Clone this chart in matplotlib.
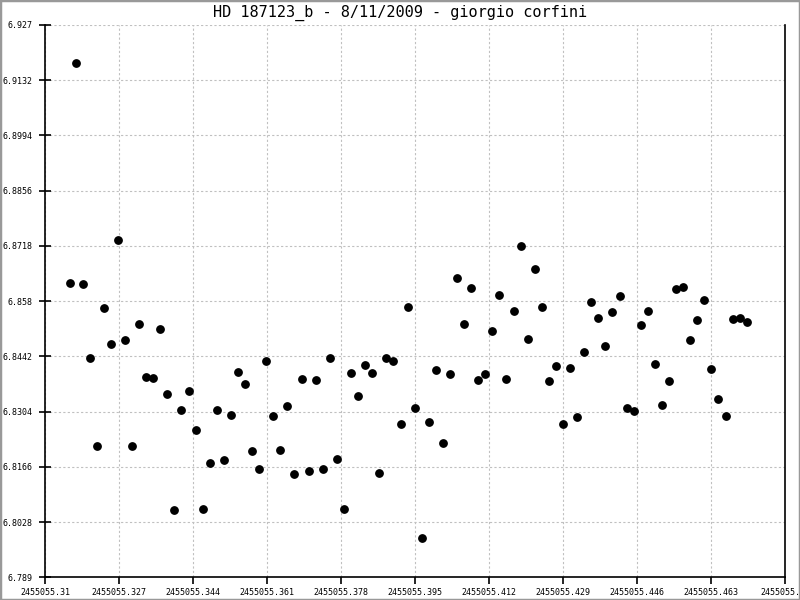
import matplotlib
matplotlib.use('Agg')
import matplotlib.pyplot as plt
from matplotlib.patches import Rectangle

# photometry: julian date vs magnitude
jd = [2455055.31574, 2455055.31712, 2455055.31882, 2455055.32034, 2455055.32195,
      2455055.32355, 2455055.32516, 2455055.32677, 2455055.32838, 2455055.32999,
      2455055.33159, 2455055.33320, 2455055.33481, 2455055.33642, 2455055.33803,
      2455055.33964, 2455055.34124, 2455055.34308, 2455055.34469, 2455055.34630,
      2455055.34791, 2455055.34951, 2455055.35112, 2455055.35273, 2455055.35434,
      2455055.35595, 2455055.35755, 2455055.35916, 2455055.36077, 2455055.36238,
      2455055.36399, 2455055.36559, 2455055.36720, 2455055.36904, 2455055.37065,
      2455055.37226, 2455055.37386, 2455055.37547, 2455055.37708, 2455055.37869,
      2455055.38030, 2455055.38191, 2455055.38351, 2455055.38512, 2455055.38673,
      2455055.38834, 2455055.38995, 2455055.39178, 2455055.39339, 2455055.39500,
      2455055.39661, 2455055.39822, 2455055.39982, 2455055.40143, 2455055.40304,
      2455055.40465, 2455055.40626, 2455055.40786, 2455055.40947, 2455055.41108,
      2455055.41269, 2455055.41430, 2455055.41591, 2455055.41774, 2455055.41935,
      2455055.42096, 2455055.42257, 2455055.42418, 2455055.42578, 2455055.42739,
      2455055.42900, 2455055.43061, 2455055.43222, 2455055.43382, 2455055.43543,
      2455055.43704, 2455055.43865, 2455055.44026, 2455055.44210, 2455055.44370,
      2455055.44531, 2455055.44692, 2455055.44853, 2455055.45014, 2455055.45174,
      2455055.45335, 2455055.45496, 2455055.45657, 2455055.45818, 2455055.45978,
      2455055.46139, 2455055.46300, 2455055.46461, 2455055.46645, 2455055.46805,
      2455055.46966, 2455055.47127]

mag = [6.8625, 6.9174, 6.8622, 6.8437, 6.8217, 6.8562, 6.8472, 6.8732, 6.8482, 6.8217,
       6.8522, 6.8390, 6.8387, 6.8510, 6.8347, 6.8057, 6.8307, 6.8355, 6.8257, 6.8060,
       6.8175, 6.8307, 6.8182, 6.8295, 6.8402, 6.8372, 6.8205, 6.8160, 6.8430, 6.8292,
       6.8207, 6.8317, 6.8147, 6.8385, 6.8155, 6.8382, 6.8160, 6.8437, 6.8185, 6.8060,
       6.8400, 6.8342, 6.8420, 6.8400, 6.8150, 6.8437, 6.8430, 6.8272, 6.8565, 6.8312,
       6.7987, 6.8277, 6.8407, 6.8225, 6.8397, 6.8637, 6.8522, 6.8612, 6.8382, 6.8397,
       6.8505, 6.8595, 6.8385, 6.8555, 6.8717, 6.8485, 6.8660, 6.8565, 6.8380, 6.8417,
       6.8272, 6.8412, 6.8290, 6.8452, 6.8577, 6.8537, 6.8467, 6.8552, 6.8592, 6.8312,
       6.8305, 6.8520, 6.8555, 6.8422, 6.8320, 6.8380, 6.8610, 6.8615, 6.8482, 6.8532,
       6.8582, 6.8410, 6.8335, 6.8292, 6.8535, 6.8537, 6.8527]

xticks = [2455055.31, 2455055.327, 2455055.344, 2455055.361, 2455055.378, 2455055.395,
          2455055.412, 2455055.429, 2455055.446, 2455055.463, 2455055.48]
xlabels = ['2455055.31', '2455055.327', '2455055.344', '2455055.361', '2455055.378',
           '2455055.395', '2455055.412', '2455055.429', '2455055.446', '2455055.463',
           '2455055.48']
yticks = [6.789, 6.8028, 6.8166, 6.8304, 6.8442, 6.858, 6.8718, 6.8856, 6.8994, 6.9132, 6.927]
ylabels = ['6.789', '6.8028', '6.8166', '6.8304', '6.8442', '6.858', '6.8718', '6.8856',
           '6.8994', '6.9132', '6.927']

title = 'HD 187123_b - 8/11/2009 - giorgio corfini'

fig = plt.figure(figsize=(8, 6), dpi=100)
ax = fig.add_axes([45/800, 1 - 577.3/600, 740/800, 552.3/600])

ax.plot(jd, mag, 'o', color='black', markersize=5.3, linestyle='none', zorder=3)

ax.set_xlim(xticks[0], xticks[-1])
ax.set_ylim(yticks[0], yticks[-1])
ax.set_xticks(xticks)
ax.set_xticklabels(xlabels, family='DejaVu Sans Mono', fontsize=6)
ax.set_yticks(yticks)
ax.set_yticklabels(ylabels, family='DejaVu Sans Mono', fontsize=6)
ax.tick_params(axis='x', direction='out', length=5, width=1.2, pad=3)
ax.tick_params(axis='y', direction='inout', length=8, width=1.2, pad=5)

ax.grid(True, color='#c0c0c0', linestyle=(0, (2, 2)), linewidth=0.8)
ax.spines['top'].set_visible(False)
for s in ['left', 'bottom', 'right']:
    ax.spines[s].set_linewidth(1.2)

fig.text(0.5, 1 - 13/600, title, ha='center', va='center',
         family='DejaVu Sans Mono', fontsize=11)

# grey border round the picture
fig.patches.append(Rectangle((0, 0), 1, 1, transform=fig.transFigure, fill=False,
                             edgecolor='#999999', linewidth=2.5))

fig.savefig('out.png', dpi=100)
